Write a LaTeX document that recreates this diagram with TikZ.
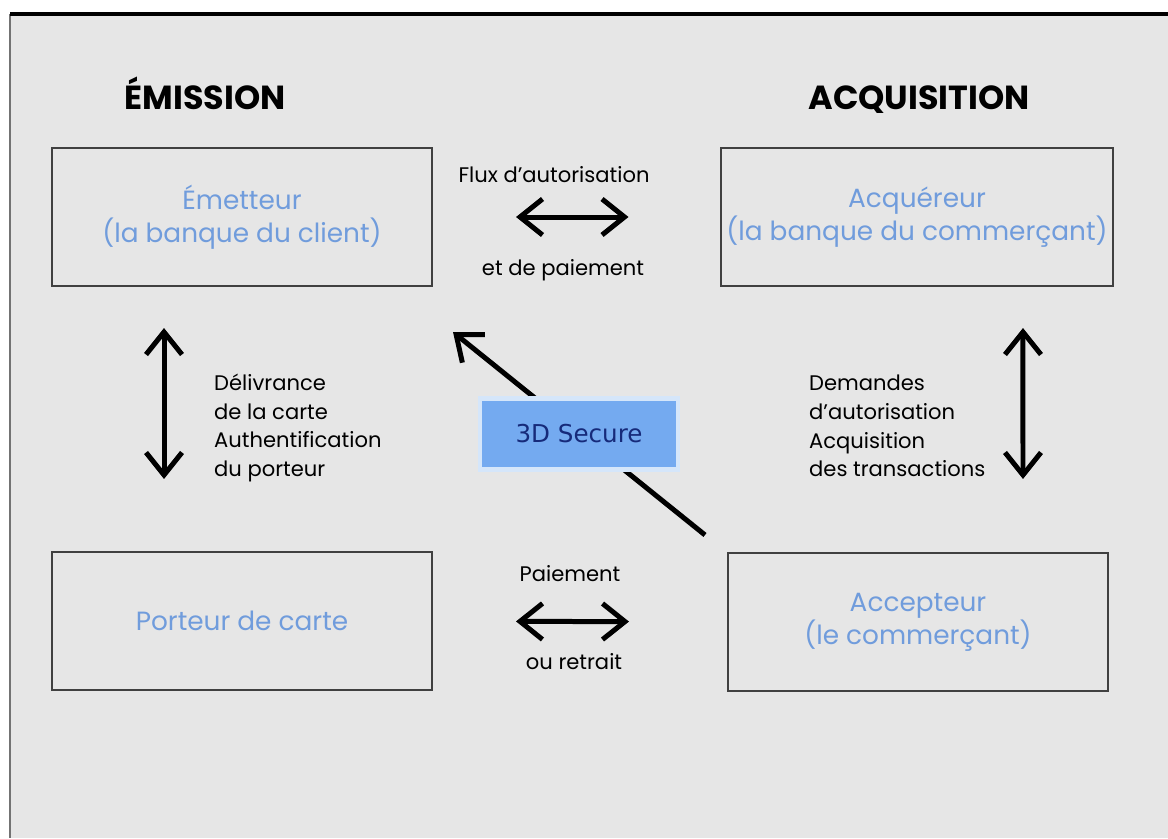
\documentclass[tikz,border=0pt]{standalone}
\usepackage{fontspec}
\setmainfont{Poppins}
\newfontfamily\securefont{DejaVu Sans}
\usepackage{xcolor}
\usepackage{tikz}
\usetikzlibrary{positioning, arrows.meta}

\definecolor{panelgray}{RGB}{230,230,230}
\definecolor{partyblue}{RGB}{112,156,220}
\definecolor{secureblue}{RGB}{116,170,240}
\definecolor{securenavy}{RGB}{22,42,122}

\begin{document}
\begin{tikzpicture}[x=0.02cm, y=-0.02cm,
    party/.style={draw=black!75, line width=1.2pt, minimum width=7.6cm, minimum height=2.76cm,
      align=center, text=partyblue, font=\fontsize{15}{19}\selectfont},
    heading/.style={anchor=base, font=\fontsize{19}{22}\selectfont\bfseries},
    note/.style={align=left, font=\fontsize{12}{16.4}\selectfont},
    flow/.style={{Straight Barb[length=0.45cm,width=0.72cm]}-{Straight Barb[length=0.45cm,width=0.72cm]}, line width=0.1cm}]
        \useasboundingbox (0,0) rectangle (1168,838);

        % Panel
        \fill[panelgray] (10,14) rectangle (1168,838);
        \draw[black!55, line width=1.5pt] (10,14) -- (10,838);
        \draw[black, line width=1.8pt] (10,14) -- (1168,14);

        % Headings
        \node[heading] (emission) at (205,110) {ÉMISSION};
        \node[heading] (acquisition) at (919,110) {ACQUISITION};

        % Parties
        \node[party] (emetteur) at (242,217) {Émetteur\\(la banque du client)};
        \node[party] (acquereur) at (917,217) {Acquéreur\\(la banque du commerçant)};
        \node[party] (porteur) at (242,621) {Porteur de carte};
        \node[party] (accepteur) at (918,622) {Accepteur\\(le commerçant)};

        % Flows
        \draw[flow, shorten <=1.66cm, shorten >=1.82cm] (emetteur) -- (acquereur);
        \draw[flow, shorten <=1.66cm, shorten >=1.96cm] (porteur) -- (accepteur);
        \draw[flow] ([xshift=-1.56cm, yshift=-0.82cm]emetteur.south) -- ([xshift=-1.56cm, yshift=1.44cm]porteur.north);
        \draw[flow] ([xshift=2.12cm, yshift=-0.82cm]acquereur.south) -- ([xshift=2.1cm, yshift=1.46cm]accepteur.north);

        % 3D Secure
        \draw[line width=0.1cm, -{Straight Barb[length=0.45cm,width=0.72cm]}] ([shift={(-22,-17)}]accepteur.north west) -- ([shift={(20,45)}]emetteur.south east);
        \node[fill=secureblue, draw=secureblue!30!white, line width=2.5pt, minimum width=3.96cm, minimum height=1.42cm,
          text=securenavy, font=\securefont\fontsize{14}{17}\selectfont] (secure) at (579,434) {3D Secure};

        % Labels
        \node[note] (flux) at (554,175) {Flux d’autorisation};
        \node[note] (paiementflux) at (563,270) {et de paiement};
        \node[note, anchor=west] (delivrance) at (208,428) {Délivrance\\de la carte\\Authentification\\du porteur};
        \node[note, anchor=west] (demandes) at (803,426) {Demandes\\d’autorisation\\Acquisition\\des transactions};
        \node[note] (paiement) at (570,574) {Paiement};
        \node[note] (retrait) at (574,662) {ou retrait};
\end{tikzpicture}
\end{document}
